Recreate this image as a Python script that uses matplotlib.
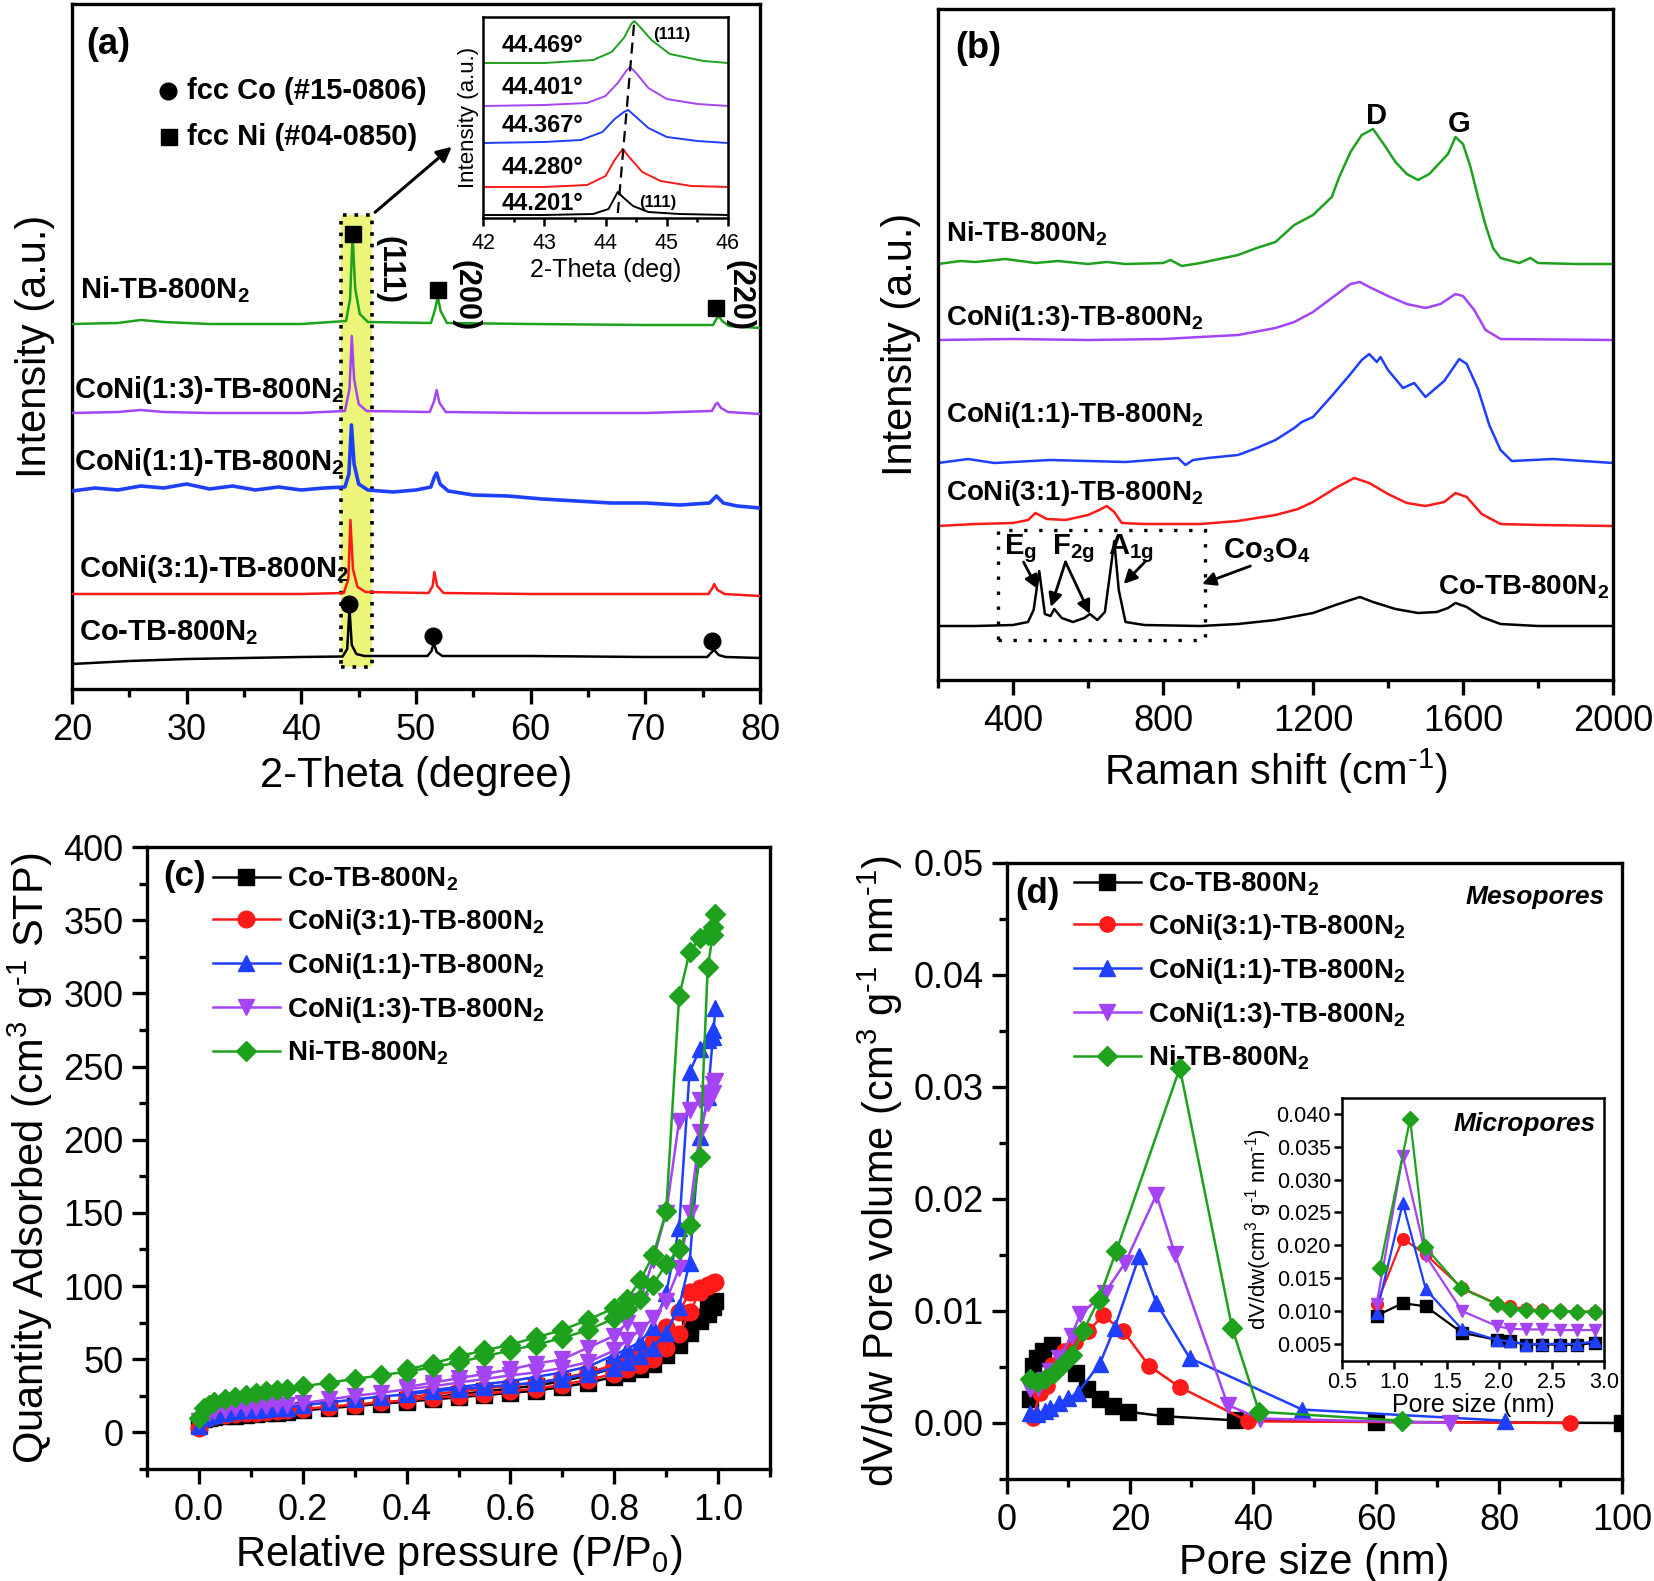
import matplotlib
matplotlib.use("Agg")
import matplotlib.pyplot as plt
from matplotlib.ticker import MultipleLocator, FormatStrFormatter, NullLocator
from matplotlib.patches import Rectangle

plt.rcParams['font.family'] = ['Liberation Sans', 'DejaVu Sans']
plt.rcParams['mathtext.default'] = 'regular'

# ---------------- colours ----------------
C_K, C_R, C_B, C_P, C_G = '#000000', '#ff1a1a', '#1f3fff', '#a544f5', '#1ea21e'

# ---------------- names ----------------
samples = ['Co-TB-800N$_2$', 'CoNi(3:1)-TB-800N$_2$', 'CoNi(1:1)-TB-800N$_2$',
           'CoNi(1:3)-TB-800N$_2$', 'Ni-TB-800N$_2$']
HY = '\u2010'  # short hyphen used in the superscripts

# ---------------- (a) XRD (offset intensity, a.u.) ----------------
xrd_co_x = [20, 25, 30, 35, 40, 43.6, 44.0, 44.2, 44.4, 44.8, 45.5, 51.0, 51.35, 51.55, 51.8, 52.3, 60, 70, 75.4, 75.8, 76.0, 76.4, 77, 80]
xrd_co_y = [25, 28, 30, 31, 32, 32.5, 40, 80, 44, 35, 33, 33, 38, 46, 37, 33, 33, 32, 32, 37, 39, 34, 32, 31]
xrd_31_x = [20, 30, 40, 43.7, 44.1, 44.28, 44.5, 44.9, 45.6, 51.1, 51.45, 51.6, 51.85, 52.4, 60, 70, 75.5, 75.85, 76.0, 76.3, 76.9, 80]
xrd_31_y = [95, 95, 95, 96, 110, 169, 120, 102, 97, 96, 103, 117, 103, 96, 95, 95, 95, 101, 105, 99, 95, 93]
xrd_11_x = [20, 22, 24, 26, 28, 30, 32, 34, 36, 38, 40, 42, 43.8, 44.15, 44.37, 44.6, 45.0, 45.8, 48, 50, 51.3, 51.6, 51.8, 52.1, 52.8, 55, 58, 61, 64, 67, 70, 73, 75.6, 76.2, 76.8, 78, 80]
xrd_11_y = [198, 201, 199, 203, 201, 205, 200, 203, 199, 202, 199, 201, 202, 215, 264, 225, 205, 199, 197, 199, 202, 212, 216, 205, 198, 194, 193, 190, 188, 186, 186, 184, 186, 193, 186, 183, 181]
xrd_13_x = [20, 24, 26, 28, 32, 40, 43.8, 44.2, 44.4, 44.6, 45.0, 45.7, 51.2, 51.55, 51.8, 52.05, 52.6, 60, 70, 75.8, 76.15, 76.3, 76.6, 77.2, 80]
xrd_13_y = [276, 277, 279, 277, 276, 276, 278, 300, 353, 310, 285, 278, 277, 287, 299, 286, 277, 276, 276, 278, 285, 286, 281, 277, 275]
xrd_ni_x = [20, 24, 26, 28, 32, 40, 43.9, 44.25, 44.47, 44.7, 45.1, 45.8, 51.3, 51.65, 51.9, 52.15, 52.7, 60, 70, 75.9, 76.25, 76.4, 76.7, 77.3, 80]
xrd_ni_y = [365, 366, 369, 367, 365, 365, 368, 390, 454, 400, 375, 367, 366, 379, 392, 378, 366, 365, 364, 364, 371, 373, 368, 363, 361]
xrd_x = [xrd_co_x, xrd_31_x, xrd_11_x, xrd_13_x, xrd_ni_x]
xrd_y = [xrd_co_y, xrd_31_y, xrd_11_y, xrd_13_y, xrd_ni_y]
co_ref_2theta = [44.2, 51.5, 75.8]
co_ref_y = [85, 53, 48]
ni_ref_2theta = [44.47, 51.9, 76.2]
ni_ref_y = [455, 399, 381]
miller = ['(111)', '(200)', '(220)']

# inset (111) peaks
peak_pos = [44.201, 44.280, 44.367, 44.401, 44.469]
peak_labels = ['44.201°', '44.280°', '44.367°', '44.401°', '44.469°']
ins_co_x = [42, 43, 43.8, 44.05, 44.2, 44.3, 44.45, 44.7, 45.2, 46]
ins_co_y = [3, 3, 4, 9, 26, 20, 12, 6, 4, 3]
ins_31_x = [42, 43, 43.7, 44.0, 44.15, 44.28, 44.4, 44.6, 44.9, 45.4, 46]
ins_31_y = [31, 31, 33, 42, 58, 69, 60, 46, 37, 32, 31]
ins_11_x = [42, 43, 43.6, 43.95, 44.15, 44.3, 44.37, 44.5, 44.7, 45.0, 45.5, 46]
ins_11_y = [75, 76, 78, 86, 99, 106, 108, 101, 90, 81, 77, 75]
ins_13_x = [42, 43, 43.7, 44.0, 44.2, 44.35, 44.401, 44.5, 44.7, 45.0, 45.5, 46]
ins_13_y = [112, 113, 115, 122, 135, 148, 151, 145, 130, 119, 114, 112]
ins_ni_x = [42, 43, 43.8, 44.1, 44.3, 44.42, 44.469, 44.55, 44.75, 45.05, 45.6, 46]
ins_ni_y = [155, 155, 158, 166, 180, 194, 197, 192, 178, 164, 157, 155]
ins_x = [ins_co_x, ins_31_x, ins_11_x, ins_13_x, ins_ni_x]
ins_y = [ins_co_y, ins_31_y, ins_11_y, ins_13_y, ins_ni_y]

# ---------------- (b) Raman ----------------
ram_co_x = [200, 300, 400, 440, 455, 470, 485, 500, 510, 530, 560, 590, 605, 625, 645, 660, 670, 682, 700, 750, 900, 1000, 1100, 1200, 1260, 1300, 1325, 1360, 1420, 1480, 1530, 1560, 1580, 1610, 1650, 1700, 1800, 2000]
ram_co_y = [54, 54, 55, 58, 70, 109, 66, 64, 71, 62, 58, 62, 66, 60, 68, 110, 139, 90, 58, 55, 54, 56, 60, 67, 75, 80, 83, 78, 71, 67, 68, 72, 77, 73, 63, 56, 54, 54]
ram_31_x = [200, 300, 400, 440, 460, 490, 540, 600, 630, 650, 670, 690, 750, 900, 1000, 1100, 1160, 1200, 1260, 1310, 1350, 1400, 1450, 1500, 1550, 1580, 1610, 1650, 1700, 1800, 2000]
ram_31_y = [154, 156, 157, 160, 167, 161, 160, 165, 170, 174, 168, 157, 156, 156, 159, 165, 171, 178, 192, 202, 197, 186, 177, 174, 178, 187, 183, 166, 156, 155, 154]
ram_11_x = [200, 280, 350, 500, 700, 840, 860, 880, 920, 1000, 1050, 1100, 1150, 1170, 1200, 1250, 1300, 1330, 1350, 1370, 1380, 1400, 1440, 1470, 1500, 1550, 1590, 1610, 1640, 1670, 1700, 1730, 1840, 2000]
ram_11_y = [217, 221, 217, 220, 218, 222, 215, 220, 222, 225, 232, 240, 252, 258, 263, 284, 306, 320, 326, 318, 323, 310, 292, 297, 283, 299, 321, 316, 291, 255, 230, 219, 221, 217]
ram_13_x = [200, 400, 600, 800, 1000, 1100, 1150, 1200, 1250, 1300, 1325, 1350, 1400, 1450, 1500, 1540, 1580, 1600, 1630, 1660, 1700, 2000]
ram_13_y = [340, 341, 340, 341, 345, 352, 358, 368, 382, 396, 398, 393, 384, 376, 372, 376, 386, 384, 370, 350, 341, 340]
ram_ni_x = [200, 260, 300, 380, 460, 520, 600, 650, 700, 800, 820, 850, 900, 1000, 1050, 1100, 1150, 1200, 1250, 1270, 1300, 1330, 1360, 1390, 1420, 1450, 1480, 1510, 1540, 1560, 1580, 1600, 1620, 1640, 1660, 1680, 1700, 1750, 1780, 1800, 1900, 2000]
ram_ni_y = [416, 419, 418, 421, 417, 419, 416, 418, 416, 417, 420, 414, 417, 425, 432, 438, 455, 465, 483, 503, 528, 545, 551, 535, 518, 506, 500, 506, 518, 526, 543, 536, 513, 483, 455, 432, 422, 417, 422, 417, 416, 416]
ram_x = [ram_co_x, ram_31_x, ram_11_x, ram_13_x, ram_ni_x]
ram_y = [ram_co_y, ram_31_y, ram_11_y, ram_13_y, ram_ni_y]

# ---------------- (c) N2 isotherms ----------------
p_ads = [0.0, 0.01, 0.02, 0.03, 0.05, 0.07, 0.09, 0.11, 0.13, 0.15, 0.17, 0.2, 0.25, 0.3, 0.35, 0.4, 0.45, 0.5,
         0.55, 0.6, 0.65, 0.7, 0.75, 0.8, 0.825, 0.85, 0.875, 0.9, 0.925, 0.945, 0.965, 0.98, 0.99, 0.995]
p_des = [0.99, 0.98, 0.965, 0.945, 0.925, 0.9, 0.875, 0.85, 0.825, 0.8, 0.75, 0.7, 0.65, 0.6, 0.55, 0.5, 0.45, 0.4]
ads_co = [5, 9, 10, 10.5, 11, 11.5, 12, 12.5, 13, 13.5, 14, 15, 16.5, 18, 19.5, 21, 22.5, 24, 25.5, 27, 28.5, 31, 34, 38, 40.5, 43, 47, 53, 60, 68, 76, 81, 86, 90]
des_co = [89, 84, 79, 72, 66, 60, 55, 50, 47, 44, 39, 35, 32, 30, 28, 26, 24, 22]
ads_31 = [3, 9, 10.5, 11, 12, 12.5, 13, 13.5, 14, 14.5, 15, 16, 17.5, 19, 20.5, 22, 23.5, 25, 26.5, 28, 30, 32.5, 36, 40, 43, 46, 50, 58, 67, 82, 96, 100, 102, 103]
des_31 = [102, 101, 99, 96, 82, 72, 62, 55, 50, 46, 41, 37, 34, 32, 30, 28, 26, 24]
ads_11 = [4.5, 10, 11, 12, 13.5, 14.5, 15, 15.5, 16, 16.5, 17, 18.5, 20.5, 22.5, 24.5, 26, 28, 29.5, 31, 32.5, 34, 36.5, 40, 44, 48, 52, 58, 68, 86, 116, 202, 229, 270, 290]
des_11 = [275, 268, 262, 246, 140, 95, 72, 62, 57, 53, 45, 41, 38, 35, 33, 31, 29, 27]
ads_13 = [8, 12, 13.5, 14.5, 15.5, 16.5, 17, 17.5, 18, 18.5, 19, 20, 22.5, 25, 27, 29.5, 31.5, 34, 36.5, 39, 41, 44, 48, 56, 63, 70, 78, 90, 112, 150, 205, 225, 232, 240]
des_13 = [238, 232, 227, 220, 213, 150, 118, 90, 75, 66, 58, 50, 47, 43, 40, 37, 34, 31]
ads_ni = [10, 17, 19, 20.5, 22.5, 24, 25.5, 27, 28, 29, 30, 31.5, 34, 36.5, 39, 41.5, 44.5, 48, 52, 56, 60, 64.5, 70, 78, 84, 91, 101, 115, 125, 142, 188, 318, 340, 354]
des_ni = [345, 340, 338, 328, 298, 151, 121, 104, 91, 85, 77, 70, 65, 60, 56, 52, 47, 43]
iso_ads = [ads_co, ads_31, ads_11, ads_13, ads_ni]
iso_des = [des_co, des_31, des_11, des_13, des_ni]

# ---------------- (d) pore size distribution ----------------
meso_co_x = [3.7, 4.2, 4.9, 5.9, 7.3, 11.2, 13.0, 15.1, 17.3, 19.7, 25.7, 37.0, 60.0, 100.0]
meso_co_y = [0.0021, 0.0051, 0.0058, 0.0064, 0.0070, 0.0045, 0.0030, 0.0021, 0.0015, 0.0010, 0.0006, 0.00024, 0.0001, 0.0]
meso_31_x = [4.2, 5.4, 6.5, 7.3, 9.2, 11.1, 13.2, 15.6, 18.9, 23.1, 28.1, 39.2, 91.6]
meso_31_y = [0.00045, 0.0027, 0.0033, 0.0052, 0.0064, 0.0072, 0.0082, 0.0096, 0.0082, 0.0051, 0.0032, 0.00015, 0.0]
meso_11_x = [3.8, 4.9, 6.2, 7.0, 8.4, 10.0, 11.5, 15.1, 17.5, 21.5, 24.3, 29.7, 48.0, 81.0]
meso_11_y = [0.0009, 0.0008, 0.0011, 0.0013, 0.0018, 0.0022, 0.0027, 0.0053, 0.0085, 0.0149, 0.0107, 0.0058, 0.0012, 0.0002]
meso_13_x = [3.8, 5.0, 6.0, 7.0, 8.5, 10.5, 11.9, 15.9, 19.2, 24.3, 27.3, 35.9, 41.1, 72.1]
meso_13_y = [0.0030, 0.0031, 0.0038, 0.0046, 0.0058, 0.0078, 0.0097, 0.0116, 0.0143, 0.0204, 0.0151, 0.0016, 0.0004, 0.0]
meso_ni_x = [3.8, 4.9, 6.2, 7.6, 8.9, 10.5, 12.4, 14.9, 17.8, 28.1, 36.6, 41.0, 64.2]
meso_ni_y = [0.0039, 0.0037, 0.0039, 0.0045, 0.0052, 0.0061, 0.0082, 0.0110, 0.0154, 0.0317, 0.0085, 0.0010, 0.0002]
meso_x = [meso_co_x, meso_31_x, meso_11_x, meso_13_x, meso_ni_x]
meso_y = [meso_co_y, meso_31_y, meso_11_y, meso_13_y, meso_ni_y]

micro_x = [0.83, 1.08, 1.30, 1.645, 1.98, 2.10, 2.256, 2.41, 2.58, 2.745, 2.91]
micro_co = [0.0093, 0.0112, 0.0107, 0.0067, 0.0056, 0.0054, 0.0049, 0.0049, 0.0049, 0.0048, 0.0052]
micro_31 = [0.0111, 0.0210, 0.0186, 0.0135, 0.0111, 0.0107, 0.0103, 0.0101, 0.0100, 0.0099, 0.0099]
micro_11 = [0.0097, 0.0264, 0.0133, 0.0072, 0.0056, 0.0054, 0.0049, 0.0050, 0.0050, 0.0050, 0.0054]
micro_13 = [0.0110, 0.0336, 0.0184, 0.0100, 0.0077, 0.0073, 0.0072, 0.0072, 0.0071, 0.0071, 0.0071]
micro_ni_x = [0.86, 1.15, 1.29, 1.635, 1.98, 2.10, 2.256, 2.41, 2.58, 2.745, 2.91]
micro_ni = [0.0165, 0.0392, 0.0198, 0.0135, 0.0110, 0.0103, 0.0101, 0.0100, 0.0100, 0.0099, 0.0099]
micro_xs = [micro_x, micro_x, micro_x, micro_x, micro_ni_x]
micro_ys = [micro_co, micro_31, micro_11, micro_13, micro_ni]

colors = [C_K, C_R, C_B, C_P, C_G]
markers = ['s', 'o', '^', 'v', 'D']
msizes = [11, 12, 12, 12, 10]

# ====================================================================
W, H = 1654, 1581
fig = plt.figure(figsize=(W / 100, H / 100), dpi=100)


def px_axes(l, t, r, b):
    return fig.add_axes([l / W, 1 - b / H, (r - l) / W, (b - t) / H])


def style(ax, lab=26, w=2.4, ml=11, mnl=6):
    for s in ax.spines.values():
        s.set_linewidth(w)
    ax.tick_params(which='major', direction='out', length=ml, width=w, labelsize=lab, pad=6,
                   top=False, right=False)
    ax.tick_params(which='minor', direction='out', length=mnl, width=w, top=False, right=False)


BOLD = dict(fontweight='bold')

# ---------------- (a) ----------------
axa = px_axes(72, 4, 760, 689)
style(axa)
axa.set_xlim(20, 80)
axa.set_ylim(0, 685)
axa.xaxis.set_major_locator(MultipleLocator(10))
axa.xaxis.set_minor_locator(MultipleLocator(5))
axa.yaxis.set_major_locator(NullLocator())
axa.tick_params(axis='y', left=False, labelleft=False)
axa.add_patch(Rectangle((43.5, 22), 2.7, 452, facecolor='#ecf57a', edgecolor='k', lw=2.6,
                        linestyle=(0, (1, 2.2)), zorder=1))
for xs, ys, c in zip(xrd_x, xrd_y, colors):
    axa.plot(xs, ys, color=c, lw=1.8 if c != C_B else 2.6, zorder=3)
axa.plot(co_ref_2theta, co_ref_y, 'o', color='k', ms=12, ls='none', zorder=4)
axa.plot(ni_ref_2theta, ni_ref_y, 's', color='k', ms=12, ls='none', zorder=4)
for xp, yp, t in zip([47.7, 54.3, 78.2], [419, 393, 394], miller):
    axa.text(xp, yp, t, rotation=-90, ha='center', va='center', fontsize=22, **BOLD)
lab_pos_a = [(20.6, 56), (20.6, 120), (20.2, 227), (20.2, 299), (20.7, 399)]
for (xp, yp), t in zip(lab_pos_a, samples):
    axa.text(xp, yp, t, ha='left', va='center', fontsize=21, **BOLD)
axa.plot([28.4], [598], 'o', color='k', ms=12)
axa.plot([28.5], [552], 's', color='k', ms=11)
axa.text(30.0, 598, 'fcc Co (#15-0806)', ha='left', va='center', fontsize=21, **BOLD)
axa.text(30.0, 552, 'fcc Ni (#04-0850)', ha='left', va='center', fontsize=21, **BOLD)
axa.text(21.2, 645, '(a)', ha='left', va='center', fontsize=26, **BOLD)
axa.annotate('', xy=(53.3, 544), xytext=(46.25, 475),
             arrowprops=dict(arrowstyle='-|>', color='k', lw=2.2, mutation_scale=22))
axa.set_xlabel('2-Theta (degree)', fontsize=30, labelpad=6)
axa.set_ylabel('Intensity (a.u.)', fontsize=30, labelpad=12)

# inset (a)
axi = px_axes(483, 17, 728, 218)
style(axi, lab=15.5, w=1.8, ml=6, mnl=3)
axi.set_xlim(42, 46)
axi.set_ylim(0, 201)
axi.xaxis.set_major_locator(MultipleLocator(1))
axi.xaxis.set_minor_locator(MultipleLocator(0.5))
axi.tick_params(axis='y', left=False, labelleft=False)
axi.tick_params(axis='x', pad=5)
for xs, ys, c in zip(ins_x, ins_y, colors):
    axi.plot(xs, ys, color=c, lw=1.4)
axi.plot([peak_pos[0], peak_pos[-1]], [5, 196], ls=(0, (5, 3)), color='k', lw=1.6)
for yp, t in zip([15, 51, 92, 130, 172], peak_labels):
    axi.text(42.3, yp, t, ha='left', va='center', fontsize=17, **BOLD)
axi.text(44.77, 183, '(111)', ha='left', va='center', fontsize=12, **BOLD)
axi.text(44.55, 16, '(111)', ha='left', va='center', fontsize=12, **BOLD)
axi.set_xlabel('2-Theta (deg)', fontsize=18, labelpad=3)
axi.set_ylabel('Intensity (a.u.)', fontsize=16, labelpad=3)

# ---------------- (b) ----------------
axb = px_axes(938, 9, 1613, 680)
style(axb)
axb.set_xlim(200, 2000)
axb.set_ylim(0, 671)
axb.xaxis.set_minor_locator(MultipleLocator(200))
axb.set_xticks([400, 800, 1200, 1600, 2000])
axb.tick_params(axis='y', left=False, labelleft=False)
for xs, ys, c in zip(ram_x, ram_y, colors):
    axb.plot(xs, ys, color=c, lw=1.8)
axb.add_patch(Rectangle((359, 40), 554, 110, fill=False, edgecolor='k', lw=2.4,
                        linestyle=(0, (1, 3.5))))
lab_pos_b = [(1989, 93), (221, 187), (221, 265), (221, 362), (221, 446)]
for i, ((xp, yp), t) in enumerate(zip(lab_pos_b, samples)):
    axb.text(xp, yp, t, ha='right' if i == 0 else 'left', va='center', fontsize=20, **BOLD)
axb.text(245, 632, '(b)', ha='left', va='center', fontsize=26, **BOLD)
axb.text(1368, 564, 'D', ha='center', va='center', fontsize=21, **BOLD)
axb.text(1589, 556, 'G', ha='center', va='center', fontsize=21, **BOLD)
axb.text(420, 131, 'E$_g$', ha='center', va='center', fontsize=21, **BOLD)
axb.text(562, 131, 'F$_{2g}$', ha='center', va='center', fontsize=21, **BOLD)
axb.text(715, 131, 'A$_{1g}$', ha='center', va='center', fontsize=21, **BOLD)
axb.text(1076, 129, 'Co$_3$O$_4$', ha='center', va='center', fontsize=21, **BOLD)
arw = dict(arrowstyle='-|>', color='k', lw=2.0, mutation_scale=20, shrinkA=0, shrinkB=0)
axb.annotate('', xy=(466, 91), xytext=(428, 118), arrowprops=arw)
axb.annotate('', xy=(501, 73), xytext=(540, 118), arrowprops=arw)
axb.annotate('', xy=(605, 66), xytext=(540, 118), arrowprops=arw)
axb.annotate('', xy=(695, 96), xytext=(754, 119), arrowprops=arw)
axb.annotate('', xy=(904, 96), xytext=(1033, 114), arrowprops=arw)
axb.set_xlabel('Raman shift (cm$^{' + HY + '1}$)', fontsize=30, labelpad=6)
axb.set_ylabel('Intensity (a.u.)', fontsize=30, labelpad=12)

# ---------------- (c) ----------------
axc = px_axes(147, 847, 770, 1469)
style(axc)
axc.set_xlim(-0.1, 1.1)
axc.set_ylim(-25, 400)
axc.set_xticks([0.0, 0.2, 0.4, 0.6, 0.8, 1.0])
axc.xaxis.set_major_formatter(FormatStrFormatter('%.1f'))
axc.xaxis.set_minor_locator(MultipleLocator(0.1))
axc.yaxis.set_major_locator(MultipleLocator(50))
axc.yaxis.set_minor_locator(MultipleLocator(25))
for a, d, c, m, ms, lab in zip(iso_ads, iso_des, colors, markers, msizes, samples):
    axc.plot(p_ads, a, color=c, marker=m, ms=ms, lw=1.8, label=lab)
    axc.plot(p_des, d, color=c, marker=m, ms=ms, lw=1.8)
axc.legend(loc='upper left', bbox_to_anchor=(0.106, 0.97), frameon=False,
           handlelength=2.4, handletextpad=0.25, labelspacing=0.5, borderpad=0, borderaxespad=0,
           prop=dict(weight='bold', size=20))
axc.text(0.06, 0.952, '(c)', transform=axc.transAxes, ha='center', va='center', fontsize=25, **BOLD)
axc.set_xlabel('Relative pressure (P/P$_0$)', fontsize=30, labelpad=4)
axc.set_ylabel('Quantity Adsorbed (cm$^3$ g$^{' + HY + '1}$ STP)', fontsize=30, labelpad=6)

# ---------------- (d) ----------------
axd = px_axes(1007, 863, 1622, 1479)
style(axd)
axd.set_xlim(0, 100)
axd.set_ylim(-0.005, 0.05)
axd.xaxis.set_major_locator(MultipleLocator(20))
axd.xaxis.set_minor_locator(MultipleLocator(10))
axd.set_yticks([0.0, 0.01, 0.02, 0.03, 0.04, 0.05])
axd.yaxis.set_major_formatter(FormatStrFormatter('%.2f'))
axd.yaxis.set_minor_locator(MultipleLocator(0.005))
for xs, ys, c, m, lab in zip(meso_x, meso_y, colors, markers, samples):
    axd.plot(xs, ys, color=c, marker=m, ms=11 if m != 'D' else 10, lw=1.8, label=lab)
axd.legend(loc='upper left', bbox_to_anchor=(0.109, 0.988), frameon=False,
           handlelength=2.4, handletextpad=0.25, labelspacing=0.5, borderpad=0, borderaxespad=0,
           prop=dict(weight='bold', size=20))
axd.text(0.05, 0.95, '(d)', transform=axd.transAxes, ha='center', va='center', fontsize=25, **BOLD)
axd.text(0.972, 0.945, 'Mesopores', transform=axd.transAxes, ha='right', va='center',
         fontsize=19, fontweight='bold', fontstyle='italic')
axd.set_xlabel('Pore size (nm)', fontsize=30, labelpad=4)
axd.set_ylabel('dV/dw Pore volume (cm$^3$ g$^{' + HY + '1}$ nm$^{' + HY + '1}$)', fontsize=30, labelpad=6)

# inset (d)
axj = px_axes(1342, 1098, 1604, 1361)
style(axj, lab=15.5, w=1.8, ml=6, mnl=3)
axj.set_xlim(0.5, 3.0)
axj.set_ylim(0.0024, 0.0424)
axj.xaxis.set_major_locator(MultipleLocator(0.5))
axj.xaxis.set_minor_locator(MultipleLocator(0.25))
axj.set_yticks([0.005, 0.010, 0.015, 0.020, 0.025, 0.030, 0.035, 0.040])
axj.yaxis.set_major_formatter(FormatStrFormatter('%.3f'))
axj.tick_params(axis='both', pad=2)
for xs, ys, c, m in zip(micro_xs, micro_ys, colors, markers):
    axj.plot(xs, ys, color=c, marker=m, ms=8.5 if m != 'D' else 8, lw=1.6)
axj.text(0.97, 0.9, 'Micropores', transform=axj.transAxes, ha='right', va='center',
         fontsize=19, fontweight='bold', fontstyle='italic')
axj.set_xlabel('Pore size (nm)', fontsize=18, labelpad=0)
axj.set_ylabel('dV/dw(cm$^3$ g$^{' + HY + '1}$ nm$^{' + HY + '1}$)', fontsize=16, labelpad=2)

fig.savefig('out.png', dpi=100)
